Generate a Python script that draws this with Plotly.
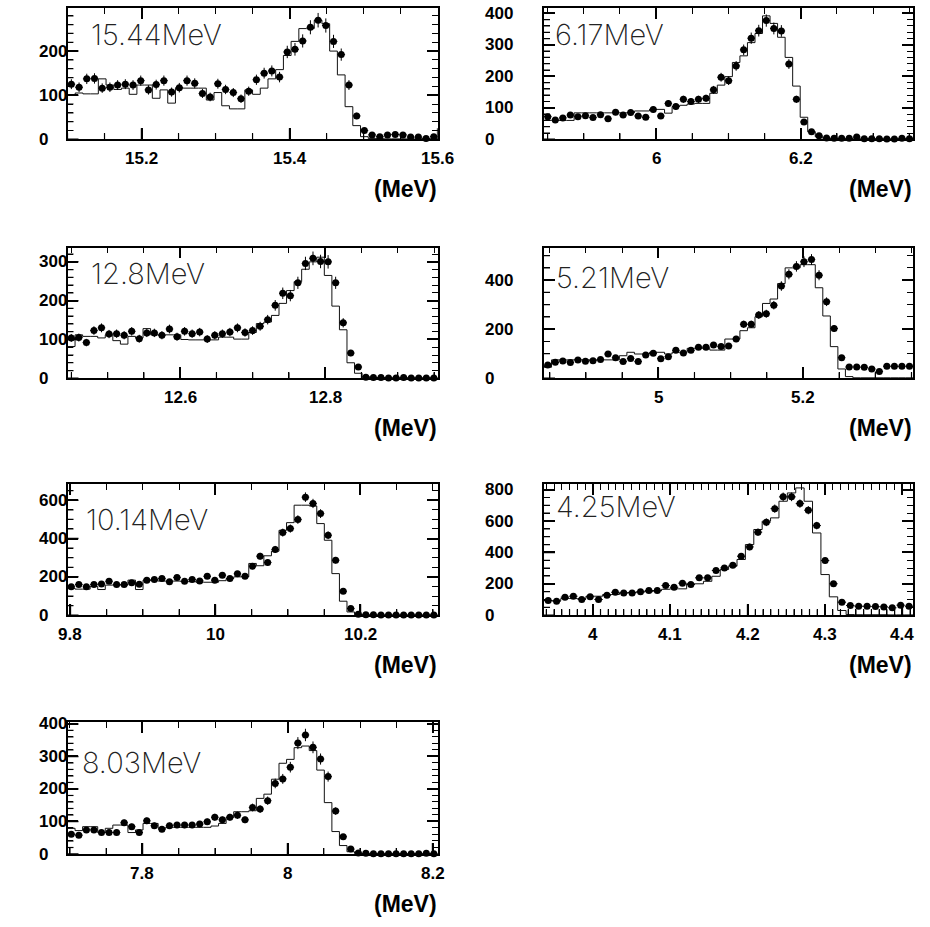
import numpy as np
import plotly.graph_objects as go

# Gamma-line response spectra: measured counts (points) and simulated response (histogram)
line_labels = ["15.44MeV", "6.17MeV", "12.8MeV", "5.21MeV", "10.14MeV", "4.25MeV", "8.03MeV"]

# Histogram limits (MeV); the bin count follows from the length of each count list
x_lo = [15.1, 5.845, 12.4446, 4.842, 9.796, 3.937, 7.6966]
x_hi = [15.6, 6.3554, 12.955, 5.3524, 10.3064, 4.414, 8.207]

# Measured counts per bin
data_1544 = [125, 118, 137, 138, 116, 118, 123, 125, 123, 133,
             112, 124, 133, 107, 117, 133, 127, 104, 96, 126,
             113, 106, 92, 109, 135, 150, 155, 141, 198, 204,
             223, 254, 270, 258, 222, 192, 123, 53, 20, 10,
             6, 10, 11, 10, 5, 5, 2, 6]
data_617 = [72, 61, 68, 77, 72, 75, 69, 78, 65, 86,
            77, 85, 74, 70, 95, 74, 114, 104, 127, 120,
            127, 130, 157, 197, 186, 233, 284, 321, 345, 377,
            352, 344, 239, 127, 55, 24, 11, 4, 3, 3,
            3, 7, 2, 2, 2, 1, 1, 3, 2]
data_1280 = [104, 105, 92, 123, 130, 114, 115, 111, 121, 102,
             117, 117, 111, 127, 107, 121, 115, 119, 101, 111,
             115, 119, 130, 118, 123, 134, 151, 188, 219, 213,
             246, 296, 309, 301, 300, 246, 143, 65, 29, 3,
             2, 2, 1, 1, 2, 1, 1, 1, 1]
data_521 = [54, 65, 70, 64, 75, 69, 72, 77, 99, 84,
            68, 81, 68, 95, 102, 80, 88, 114, 103, 114,
            127, 127, 136, 130, 132, 160, 220, 220, 258, 263,
            298, 376, 424, 456, 475, 484, 420, 312, 203, 84,
            46, 46, 45, 38, 28, 49, 49, 49, 49]
data_1014 = [148, 160, 148, 160, 163, 177, 160, 160, 169, 162,
             183, 186, 191, 174, 197, 177, 186, 179, 203, 183,
             209, 191, 216, 203, 256, 308, 275, 343, 431, 452,
             499, 616, 583, 530, 417, 287, 125, 35, 5, 2,
             2, 1, 1, 1, 1, 1, 1, 1, 1]
data_425 = [93, 89, 115, 121, 100, 117, 100, 127, 146, 142,
            142, 149, 157, 157, 189, 178, 204, 195, 238, 238,
            285, 301, 318, 376, 435, 529, 592, 679, 754, 754,
            711, 669, 571, 348, 200, 83, 62, 57, 57, 55,
            53, 47, 64, 57]
data_803 = [61, 58, 74, 74, 66, 66, 66, 96, 84, 66,
            102, 87, 76, 87, 89, 89, 89, 92, 99, 113,
            105, 113, 119, 105, 143, 138, 164, 217, 231, 267,
            341, 366, 328, 292, 238, 132, 53, 15, 3, 2,
            1, 1, 1, 1, 1, 1, 1, 2, 1]

# Simulated response per bin
sim_1544 = [101, 105, 103, 103, 137, 123, 113, 116, 102, 123,
            123, 93, 112, 82, 116, 116, 116, 116, 89, 106,
            76, 69, 69, 112, 102, 116, 137, 158, 190, 222,
            251, 251, 270, 262, 200, 146, 74, 31, 6, 2,
            2, 1, 1, 1, 1, 1, 1, 1]
sim_617 = [60, 60, 60, 60, 84, 84, 84, 84, 84, 84,
           84, 84, 90, 90, 95, 95, 83, 104, 108, 112,
           114, 114, 146, 172, 199, 244, 265, 307, 336, 392,
           368, 324, 260, 169, 70, 24, 8, 3, 2, 2,
           1, 1, 1, 1, 1, 1, 1, 1, 2]
sim_1280 = [82, 112, 108, 108, 104, 112, 97, 88, 108, 104,
            128, 112, 112, 112, 112, 100, 99, 99, 99, 99,
            106, 106, 101, 101, 118, 141, 145, 162, 193, 226,
            249, 281, 300, 312, 265, 186, 125, 40, 13, 4,
            2, 2, 1, 1, 1, 1, 1, 1, 1]
sim_521 = [45, 75, 75, 75, 75, 75, 75, 75, 75, 75,
           92, 106, 99, 99, 106, 106, 99, 106, 106, 122,
           122, 122, 115, 115, 160, 160, 194, 206, 251, 305,
           323, 386, 450, 450, 463, 463, 369, 254, 129, 38,
           7, 2, 2, 2, 2, 2, 2, 2, 2]
sim_1014 = [140, 136, 136, 150, 134, 157, 157, 157, 183, 134,
            183, 180, 178, 178, 178, 175, 175, 172, 172, 172,
            180, 191, 200, 200, 270, 258, 310, 334, 443, 483,
            574, 574, 570, 478, 391, 217, 73, 17, 3, 1,
            1, 1, 1, 1, 1, 1, 1, 1, 1]
sim_425 = [93, 93, 106, 106, 106, 121, 121, 132, 132, 142,
           145, 148, 150, 155, 165, 168, 168, 200, 200, 216,
           248, 291, 312, 355, 450, 546, 599, 620, 726, 779,
           811, 726, 524, 259, 117, 30, 4, 3, 3, 3,
           3, 2, 2, 2]
sim_803 = [79, 72, 84, 84, 66, 79, 89, 89, 66, 74,
           94, 94, 79, 82, 82, 82, 82, 82, 82, 86,
           94, 113, 130, 130, 133, 171, 184, 230, 279, 291,
           327, 332, 318, 258, 158, 69, 26, 7, 2, 1,
           1, 1, 1, 1, 1, 1, 1, 1, 1]

# Count-axis limits and labelled ticks
y_top = [297, 416, 337, 533, 683, 834, 405]
y_ticks_1544 = [0, 100, 200]
y_ticks_617 = [0, 100, 200, 300, 400]
y_ticks_1280 = [0, 100, 200, 300]
y_ticks_521 = [0, 200, 400]
y_ticks_1014 = [0, 200, 400, 600]
y_ticks_425 = [0, 200, 400, 600, 800]
y_ticks_803 = [0, 100, 200, 300, 400]
y_minor = [20, 20, 20, 50, 50, 50, 20]

# Labelled energy ticks
x_ticks_1544 = [15.2, 15.4, 15.6]
x_ticks_617 = [6.0, 6.2]
x_ticks_1280 = [12.6, 12.8]
x_ticks_521 = [5.0, 5.2]
x_ticks_1014 = [9.8, 10.0, 10.2]
x_ticks_425 = [4.0, 4.1, 4.2, 4.3, 4.4]
x_ticks_803 = [7.8, 8.0, 8.2]
x_minor = [0.05, 0.05, 0.05, 0.05, 0.05, 0.01, 0.05]

measured = [data_1544, data_617, data_1280, data_521, data_1014, data_425, data_803]
simulated = [sim_1544, sim_617, sim_1280, sim_521, sim_1014, sim_425, sim_803]
y_ticks = [y_ticks_1544, y_ticks_617, y_ticks_1280, y_ticks_521, y_ticks_1014, y_ticks_425, y_ticks_803]
x_ticks = [x_ticks_1544, x_ticks_617, x_ticks_1280, x_ticks_521, x_ticks_1014, x_ticks_425, x_ticks_803]

# ---- page geometry (pixels) ----
W, H = 930, 927
col_px = [(67.5, 437.7), (544.0, 913.3)]
row_px = [(8.3, 139.3), (247.5, 378.3), (484.3, 615.2), (722.3, 854.0)]
cells = [(0, 0), (0, 1), (1, 0), (1, 1), (2, 0), (2, 1), (3, 0)]
ylabel_left = [37, 483]
label_px = [(89, 35), (553, 35), (89, 274), (554, 277), (84, 519), (554, 506), (80, 762)]
MAJOR_LEN, MINOR_LEN = 11, 6

BOLD = dict(family="Liberation Sans, Arial, sans-serif", size=17, color="black", weight="bold")
FRAME = dict(showline=True, linecolor="black", linewidth=1.8, mirror="ticks",
             ticks="inside", ticklen=MAJOR_LEN, tickwidth=1.5, tickcolor="black",
             showticklabels=False, showgrid=False, zeroline=False)


def minor_ticks(step):
    return dict(ticks="inside", ticklen=MINOR_LEN, tickwidth=1.2, tickcolor="black",
                tickmode="linear", tick0=0, dtick=step, showgrid=False)


def grid_values(lo, hi, step):
    """Multiples of step inside [lo, hi]."""
    k0 = int(np.ceil(lo / step - 1e-6))
    k1 = int(np.floor(hi / step + 1e-6))
    return [k * step for k in range(k0, k1 + 1)]


fig = go.Figure()
layout = dict(width=W, height=H, margin=dict(l=0, r=0, t=0, b=0),
              paper_bgcolor="white", plot_bgcolor="white", showlegend=False)
annotations = []
shapes = []

for i in range(7):
    r, c = cells[i]
    k = i + 1
    xa = f"x{k}" if k > 1 else "x"
    ya = f"y{k}" if k > 1 else "y"
    vals = np.array(measured[i], dtype=float)
    sims = np.array(simulated[i], dtype=float)
    n = len(vals)
    edges = np.linspace(x_lo[i], x_hi[i], n + 1)
    centers = 0.5 * (edges[:-1] + edges[1:])
    bw = edges[1] - edges[0]

    # simulated response as a step histogram
    fig.add_trace(go.Scatter(
        x=edges, y=np.append(sims, sims[-1]), mode="lines", line_shape="hv",
        line=dict(color="#111111", width=1), xaxis=xa, yaxis=ya, hoverinfo="skip"))
    # measured counts with statistical errors
    fig.add_trace(go.Scatter(
        x=centers, y=vals, mode="markers",
        marker=dict(symbol="circle", size=7, color="black"),
        error_y=dict(type="data", array=np.sqrt(vals), thickness=1, width=0, color="black"),
        error_x=dict(type="constant", value=bw / 2, thickness=1, width=0, color="black"),
        cliponaxis=False, xaxis=xa, yaxis=ya))

    x0, x1 = col_px[c]
    y0, y1 = row_px[r]
    xr = [x_lo[i], x_hi[i] + 1e-4]
    yr = [0, y_top[i]]

    layout["xaxis" + (str(k) if k > 1 else "")] = dict(
        FRAME, domain=[x0 / W, x1 / W], range=xr, anchor=ya, tickmode="array",
        tickvals=x_ticks[i], minor=minor_ticks(x_minor[i]))
    layout["yaxis" + (str(k) if k > 1 else "")] = dict(
        FRAME, domain=[1 - y1 / H, 1 - y0 / H], range=yr, anchor=xa, tickmode="array",
        tickvals=y_ticks[i], minor=minor_ticks(y_minor[i]))

    # inward tick marks along the bottom and left frame edges, on the axis scales
    ph, pw = y1 - y0, x1 - x0
    for v in grid_values(xr[0], xr[1], x_minor[i]):
        major = any(abs(v - t) < 1e-6 for t in x_ticks[i])
        ln = (MAJOR_LEN if major else MINOR_LEN) / ph
        shapes.append(dict(type="line", xref=xa, yref=f"{ya} domain", x0=v, x1=v, y0=0, y1=ln,
                           line=dict(color="black", width=1.5 if major else 1.2), layer="above"))
    for v in grid_values(yr[0], yr[1], y_minor[i]):
        major = v in y_ticks[i]
        ln = (MAJOR_LEN if major else MINOR_LEN) / pw
        shapes.append(dict(type="line", xref=f"{xa} domain", yref=ya, x0=0, x1=ln, y0=v, y1=v,
                           line=dict(color="black", width=1.5 if major else 1.2), layer="above"))

    # energy tick labels, placed on the data scale below the frame
    for v in x_ticks[i]:
        annotations.append(dict(
            text=f"{v:g}", x=v, xref=xa, y=1 - (y1 + 19) / H, yref="paper",
            xanchor="center", yanchor="middle", showarrow=False, font=BOLD))
    # count tick labels, left-aligned in a column beside the frame
    for v in y_ticks[i]:
        annotations.append(dict(
            text=f"{v:g}", x=ylabel_left[c] / W, xref="paper", y=v, yref=ya,
            xanchor="left", yanchor="middle", showarrow=False, font=BOLD))

    lx, ly = label_px[i]
    annotations.append(dict(
        text=line_labels[i], x=lx / W, y=1 - ly / H, xref="paper", yref="paper",
        xanchor="left", yanchor="middle", showarrow=False,
        font=dict(family="Inter, Noto Sans, DejaVu Sans", size=29, color="#222222", weight=200)))
    annotations.append(dict(
        text="(MeV)", x=(x1 + 1) / W, y=1 - (y1 + 50) / H, xref="paper", yref="paper",
        xanchor="right", yanchor="middle", showarrow=False,
        font=dict(family="Liberation Sans, Arial, sans-serif", size=23,
                  color="black", weight="bold")))

layout["annotations"] = annotations
layout["shapes"] = shapes
fig.update_layout(**layout)
fig.write_html("out.html")
